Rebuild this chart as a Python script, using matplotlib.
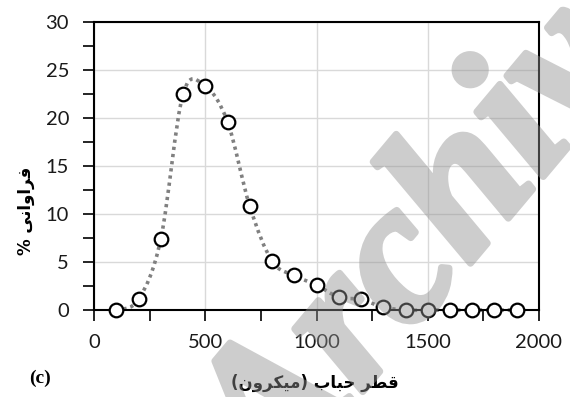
import numpy as np
import matplotlib
matplotlib.use("Agg")
import matplotlib.pyplot as plt
import matplotlib.patheffects as pe
from matplotlib.path import Path
from matplotlib.patches import PathPatch
from matplotlib.ticker import MultipleLocator

# Bubble diameter (micron) and frequency (%)
diameter = [100, 200, 300, 400, 500, 600, 700, 800, 900, 1000,
            1100, 1200, 1300, 1400, 1500, 1600, 1700, 1800, 1900]
frequency = [0.0, 1.1, 7.4, 22.5, 23.3, 19.6, 10.8, 5.1, 3.6, 2.6,
             1.35, 1.1, 0.3, 0.0, 0.0, 0.0, 0.0, 0.0, 0.0]

x_ticks = [0, 500, 1000, 1500, 2000]
y_ticks = [0, 5, 10, 15, 20, 25, 30]

# Persian labels, written as presentation forms in display order
xlabel = "(\uFEE5\uFEED\uFEAE\uFB91\uFEF4\uFEE3) \uFE8F\uFE8E\uFE92\uFEA3 \uFEAE\uFEC4\uFED7"
ylabel = "% \uFEF0\uFEE7\uFE8D\uFEED\uFE8D\uFEAE\uFED3"
panel = "(c)"
watermark = "Archive"

fig = plt.figure(figsize=(5.70, 3.97), dpi=100)
ax = fig.add_axes([0.165, 0.219, 0.7806, 0.7256])

ax.set_xlim(0, 2000)
ax.set_ylim(0, 30)
ax.xaxis.set_major_locator(MultipleLocator(500))
ax.xaxis.set_minor_locator(MultipleLocator(250))
ax.yaxis.set_major_locator(MultipleLocator(5))
ax.yaxis.set_minor_locator(MultipleLocator(2.5))
ax.set_xticks(x_ticks)
ax.set_yticks(y_ticks)

ax.grid(True, which="major", color="#d9d9d9", linewidth=1.0, zorder=0)
ax.set_axisbelow(True)
for s in ax.spines.values():
    s.set_linewidth(1.5)
    s.set_color("black")

ax.tick_params(which="both", direction="out", length=8, width=1.2, color="black")
ax.tick_params(axis="y", which="major", pad=10)
ax.tick_params(axis="x", which="major", pad=9)
for lab in ax.get_xticklabels() + ax.get_yticklabels():
    lab.set_fontfamily("Lato")
    lab.set_fontsize(14.5)
    lab.set_color("#1a1a1a")

# Smoothed connecting line (cardinal Bezier through the points)
xs = np.asarray(diameter, float)
ys = np.asarray(frequency, float)
t = 1.0 / 6.0
verts = [(xs[0], ys[0])]
codes = [Path.MOVETO]
n = len(xs)
for i in range(n - 1):
    p0 = np.array([xs[max(i - 1, 0)], ys[max(i - 1, 0)]])
    p1 = np.array([xs[i], ys[i]])
    p2 = np.array([xs[i + 1], ys[i + 1]])
    p3 = np.array([xs[min(i + 2, n - 1)], ys[min(i + 2, n - 1)]])
    c1 = p1 + (p2 - p0) * t
    c2 = p2 - (p3 - p1) * t
    verts += [tuple(c1), tuple(c2), tuple(p2)]
    codes += [Path.CURVE4] * 3
curve = PathPatch(Path(verts, codes), facecolor="none", edgecolor="#808080",
                  linewidth=2.6, linestyle=(0, (0.9, 1.1)), zorder=2,
                  clip_on=False)
ax.add_patch(curve)

ax.plot(diameter, frequency, linestyle="none", marker="o", markersize=9.8,
        markerfacecolor="white", markeredgecolor="black",
        markeredgewidth=1.6, zorder=3, clip_on=False)

fig.text(0.553, 0.035, xlabel, ha="center", va="center",
         fontsize=12, fontfamily="DejaVu Sans", fontweight="bold")
fig.text(0.045, 0.47, ylabel, ha="center", va="center", rotation=90,
         fontsize=12, fontfamily="DejaVu Sans", fontweight="bold")
fig.text(0.07, 0.048, panel, ha="center", va="center",
         fontsize=14, fontfamily="Liberation Serif", fontweight="bold")


def fade(img, dpi):
    # translucent overlay: scale the alpha of the opaque rendering
    img = img.copy()
    img[..., 3] *= 0.45
    return img, 0, 0


wm = fig.text(0.781, 0.451, watermark, ha="center", va="center", rotation=50,
              fontsize=145, fontfamily="Liberation Serif", fontweight="bold",
              fontstyle="italic", color="#909090", zorder=10,
              path_effects=[pe.Stroke(linewidth=5, foreground="#909090"),
                            pe.Normal()])
wm.set_agg_filter(fade)

fig.savefig("out.png", dpi=100)
